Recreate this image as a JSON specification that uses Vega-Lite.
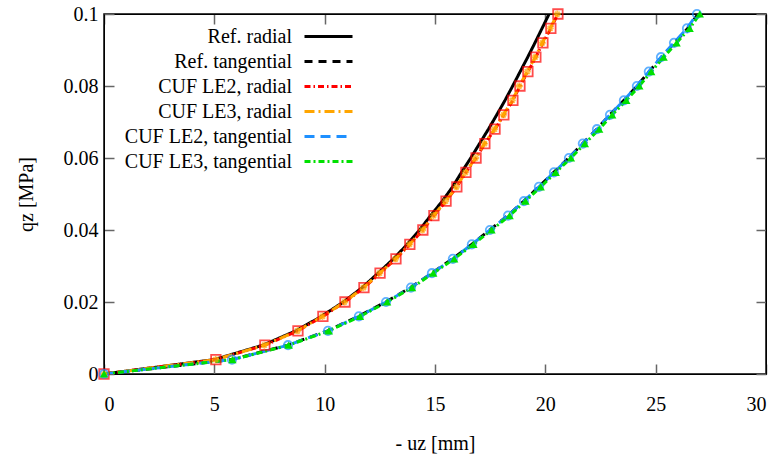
{
  "$schema": "https://vega.github.io/schema/vega-lite/v6.json",
  "width": 662,
  "height": 360,
  "autosize": {"type": "none"},
  "padding": {"left": 104, "top": 14, "right": 14, "bottom": 86},
  "background": "white",
  "config": {
    "font": "Liberation Serif",
    "view": {"stroke": "black", "strokeWidth": 1.5},
    "axis": {"grid": false, "labelFont": "Liberation Serif", "titleFont": "Liberation Serif", "labelFontSize": 20, "titleFontSize": 20, "titleFontWeight": "normal", "labelColor": "black", "titleColor": "black", "domainColor": "black", "tickColor": "#666", "tickSize": -10, "tickWidth": 1.5}
  },
  "datasets": {
    "pts": [
      {"s": "Ref. radial", "u": 0, "q": 0}, {"s": "Ref. radial", "u": 5.0, "q": 0.004}, {"s": "Ref. radial", "u": 7.2, "q": 0.008}, {"s": "Ref. radial", "u": 8.7, "q": 0.012}, {"s": "Ref. radial", "u": 9.85, "q": 0.016}, {"s": "Ref. radial", "u": 10.85, "q": 0.02}, {"s": "Ref. radial", "u": 11.7, "q": 0.024}, {"s": "Ref. radial", "u": 12.42, "q": 0.028}, {"s": "Ref. radial", "u": 13.12, "q": 0.032}, {"s": "Ref. radial", "u": 13.74, "q": 0.036}, {"s": "Ref. radial", "u": 14.3, "q": 0.04}, {"s": "Ref. radial", "u": 14.8, "q": 0.044}, {"s": "Ref. radial", "u": 15.33, "q": 0.048}, {"s": "Ref. radial", "u": 15.8, "q": 0.052}, {"s": "Ref. radial", "u": 16.2, "q": 0.056}, {"s": "Ref. radial", "u": 16.62, "q": 0.06}, {"s": "Ref. radial", "u": 17.02, "q": 0.064}, {"s": "Ref. radial", "u": 17.42, "q": 0.068}, {"s": "Ref. radial", "u": 17.8, "q": 0.072}, {"s": "Ref. radial", "u": 18.17, "q": 0.076}, {"s": "Ref. radial", "u": 18.52, "q": 0.08}, {"s": "Ref. radial", "u": 18.86, "q": 0.084}, {"s": "Ref. radial", "u": 19.2, "q": 0.088}, {"s": "Ref. radial", "u": 19.53, "q": 0.092}, {"s": "Ref. radial", "u": 19.85, "q": 0.096}, {"s": "Ref. radial", "u": 20.17, "q": 0.1},

      {"s": "Ref. tangential", "u": 0, "q": 0}, {"s": "Ref. tangential", "u": 5.78, "q": 0.004}, {"s": "Ref. tangential", "u": 8.32, "q": 0.008}, {"s": "Ref. tangential", "u": 10.13, "q": 0.012}, {"s": "Ref. tangential", "u": 11.53, "q": 0.016}, {"s": "Ref. tangential", "u": 12.76, "q": 0.02}, {"s": "Ref. tangential", "u": 13.89, "q": 0.024}, {"s": "Ref. tangential", "u": 14.85, "q": 0.028}, {"s": "Ref. tangential", "u": 15.8, "q": 0.032}, {"s": "Ref. tangential", "u": 16.66, "q": 0.036}, {"s": "Ref. tangential", "u": 17.48, "q": 0.04}, {"s": "Ref. tangential", "u": 18.3, "q": 0.044}, {"s": "Ref. tangential", "u": 19.02, "q": 0.048}, {"s": "Ref. tangential", "u": 19.7, "q": 0.052}, {"s": "Ref. tangential", "u": 20.38, "q": 0.056}, {"s": "Ref. tangential", "u": 21.06, "q": 0.06}, {"s": "Ref. tangential", "u": 21.69, "q": 0.064}, {"s": "Ref. tangential", "u": 22.33, "q": 0.068}, {"s": "Ref. tangential", "u": 22.92, "q": 0.072}, {"s": "Ref. tangential", "u": 23.56, "q": 0.076}, {"s": "Ref. tangential", "u": 24.15, "q": 0.08}, {"s": "Ref. tangential", "u": 24.7, "q": 0.084}, {"s": "Ref. tangential", "u": 25.26, "q": 0.088}, {"s": "Ref. tangential", "u": 25.85, "q": 0.092}, {"s": "Ref. tangential", "u": 26.45, "q": 0.096}, {"s": "Ref. tangential", "u": 26.92, "q": 0.1},

      {"s": "CUF LE2, radial", "u": 0, "q": 0}, {"s": "CUF LE2, radial", "u": 5.07, "q": 0.004}, {"s": "CUF LE2, radial", "u": 7.29, "q": 0.008}, {"s": "CUF LE2, radial", "u": 8.79, "q": 0.012}, {"s": "CUF LE2, radial", "u": 9.92, "q": 0.016}, {"s": "CUF LE2, radial", "u": 10.92, "q": 0.02}, {"s": "CUF LE2, radial", "u": 11.78, "q": 0.024}, {"s": "CUF LE2, radial", "u": 12.51, "q": 0.028}, {"s": "CUF LE2, radial", "u": 13.23, "q": 0.032}, {"s": "CUF LE2, radial", "u": 13.86, "q": 0.036}, {"s": "CUF LE2, radial", "u": 14.45, "q": 0.04}, {"s": "CUF LE2, radial", "u": 14.95, "q": 0.044}, {"s": "CUF LE2, radial", "u": 15.5, "q": 0.048}, {"s": "CUF LE2, radial", "u": 15.99, "q": 0.052}, {"s": "CUF LE2, radial", "u": 16.4, "q": 0.056}, {"s": "CUF LE2, radial", "u": 16.86, "q": 0.06}, {"s": "CUF LE2, radial", "u": 17.26, "q": 0.064}, {"s": "CUF LE2, radial", "u": 17.72, "q": 0.068}, {"s": "CUF LE2, radial", "u": 18.12, "q": 0.072}, {"s": "CUF LE2, radial", "u": 18.53, "q": 0.076}, {"s": "CUF LE2, radial", "u": 18.85, "q": 0.08}, {"s": "CUF LE2, radial", "u": 19.21, "q": 0.084}, {"s": "CUF LE2, radial", "u": 19.57, "q": 0.088}, {"s": "CUF LE2, radial", "u": 19.89, "q": 0.092}, {"s": "CUF LE2, radial", "u": 20.25, "q": 0.096}, {"s": "CUF LE2, radial", "u": 20.57, "q": 0.1},

      {"s": "CUF LE3, radial", "u": 0, "q": 0}, {"s": "CUF LE3, radial", "u": 5.06, "q": 0.004}, {"s": "CUF LE3, radial", "u": 7.27, "q": 0.008}, {"s": "CUF LE3, radial", "u": 8.77, "q": 0.012}, {"s": "CUF LE3, radial", "u": 9.9, "q": 0.016}, {"s": "CUF LE3, radial", "u": 10.9, "q": 0.02}, {"s": "CUF LE3, radial", "u": 11.76, "q": 0.024}, {"s": "CUF LE3, radial", "u": 12.49, "q": 0.028}, {"s": "CUF LE3, radial", "u": 13.21, "q": 0.032}, {"s": "CUF LE3, radial", "u": 13.84, "q": 0.036}, {"s": "CUF LE3, radial", "u": 14.43, "q": 0.04}, {"s": "CUF LE3, radial", "u": 14.93, "q": 0.044}, {"s": "CUF LE3, radial", "u": 15.48, "q": 0.048}, {"s": "CUF LE3, radial", "u": 15.97, "q": 0.052}, {"s": "CUF LE3, radial", "u": 16.38, "q": 0.056}, {"s": "CUF LE3, radial", "u": 16.84, "q": 0.06}, {"s": "CUF LE3, radial", "u": 17.24, "q": 0.064}, {"s": "CUF LE3, radial", "u": 17.7, "q": 0.068}, {"s": "CUF LE3, radial", "u": 18.1, "q": 0.072}, {"s": "CUF LE3, radial", "u": 18.5, "q": 0.076}, {"s": "CUF LE3, radial", "u": 18.82, "q": 0.08}, {"s": "CUF LE3, radial", "u": 19.18, "q": 0.084}, {"s": "CUF LE3, radial", "u": 19.54, "q": 0.088}, {"s": "CUF LE3, radial", "u": 19.86, "q": 0.092}, {"s": "CUF LE3, radial", "u": 20.22, "q": 0.096}, {"s": "CUF LE3, radial", "u": 20.54, "q": 0.1},

      {"s": "CUF LE2, tangential", "u": 0, "q": 0}, {"s": "CUF LE2, tangential", "u": 5.8, "q": 0.004}, {"s": "CUF LE2, tangential", "u": 8.34, "q": 0.008}, {"s": "CUF LE2, tangential", "u": 10.15, "q": 0.012}, {"s": "CUF LE2, tangential", "u": 11.55, "q": 0.016}, {"s": "CUF LE2, tangential", "u": 12.78, "q": 0.02}, {"s": "CUF LE2, tangential", "u": 13.91, "q": 0.024}, {"s": "CUF LE2, tangential", "u": 14.86, "q": 0.028}, {"s": "CUF LE2, tangential", "u": 15.81, "q": 0.032}, {"s": "CUF LE2, tangential", "u": 16.67, "q": 0.036}, {"s": "CUF LE2, tangential", "u": 17.49, "q": 0.04}, {"s": "CUF LE2, tangential", "u": 18.31, "q": 0.044}, {"s": "CUF LE2, tangential", "u": 19.03, "q": 0.048}, {"s": "CUF LE2, tangential", "u": 19.71, "q": 0.052}, {"s": "CUF LE2, tangential", "u": 20.39, "q": 0.056}, {"s": "CUF LE2, tangential", "u": 21.07, "q": 0.06}, {"s": "CUF LE2, tangential", "u": 21.7, "q": 0.064}, {"s": "CUF LE2, tangential", "u": 22.34, "q": 0.068}, {"s": "CUF LE2, tangential", "u": 22.93, "q": 0.072}, {"s": "CUF LE2, tangential", "u": 23.56, "q": 0.076}, {"s": "CUF LE2, tangential", "u": 24.15, "q": 0.08}, {"s": "CUF LE2, tangential", "u": 24.69, "q": 0.084}, {"s": "CUF LE2, tangential", "u": 25.24, "q": 0.088}, {"s": "CUF LE2, tangential", "u": 25.83, "q": 0.092}, {"s": "CUF LE2, tangential", "u": 26.42, "q": 0.096}, {"s": "CUF LE2, tangential", "u": 26.87, "q": 0.1},

      {"s": "CUF LE3, tangential", "u": 0, "q": 0}, {"s": "CUF LE3, tangential", "u": 5.82, "q": 0.004}, {"s": "CUF LE3, tangential", "u": 8.37, "q": 0.008}, {"s": "CUF LE3, tangential", "u": 10.19, "q": 0.012}, {"s": "CUF LE3, tangential", "u": 11.6, "q": 0.016}, {"s": "CUF LE3, tangential", "u": 12.83, "q": 0.02}, {"s": "CUF LE3, tangential", "u": 13.96, "q": 0.024}, {"s": "CUF LE3, tangential", "u": 14.92, "q": 0.028}, {"s": "CUF LE3, tangential", "u": 15.87, "q": 0.032}, {"s": "CUF LE3, tangential", "u": 16.74, "q": 0.036}, {"s": "CUF LE3, tangential", "u": 17.56, "q": 0.04}, {"s": "CUF LE3, tangential", "u": 18.38, "q": 0.044}, {"s": "CUF LE3, tangential", "u": 19.1, "q": 0.048}, {"s": "CUF LE3, tangential", "u": 19.79, "q": 0.052}, {"s": "CUF LE3, tangential", "u": 20.47, "q": 0.056}, {"s": "CUF LE3, tangential", "u": 21.16, "q": 0.06}, {"s": "CUF LE3, tangential", "u": 21.79, "q": 0.064}, {"s": "CUF LE3, tangential", "u": 22.44, "q": 0.068}, {"s": "CUF LE3, tangential", "u": 23.03, "q": 0.072}, {"s": "CUF LE3, tangential", "u": 23.67, "q": 0.076}, {"s": "CUF LE3, tangential", "u": 24.26, "q": 0.08}, {"s": "CUF LE3, tangential", "u": 24.8, "q": 0.084}, {"s": "CUF LE3, tangential", "u": 25.36, "q": 0.088}, {"s": "CUF LE3, tangential", "u": 25.95, "q": 0.092}, {"s": "CUF LE3, tangential", "u": 26.54, "q": 0.096}, {"s": "CUF LE3, tangential", "u": 27.0, "q": 0.1}
    ]
  },
  "data": {"name": "pts"},
  "layer": [
    {
      "mark": {"type": "line", "clip": true},
      "encoding": {
        "x": {"field": "u", "type": "quantitative", "scale": {"domain": [0, 30], "nice": false}, "axis": {"orient": "bottom", "values": [0, 5, 10, 15, 20, 25, 30], "format": "~g", "title": "- uz [mm]", "labelPadding": 30, "titlePadding": 19}},
        "y": {"field": "q", "type": "quantitative", "scale": {"domain": [0, 0.1], "nice": false}, "axis": {"orient": "left", "values": [0, 0.02, 0.04, 0.06, 0.08, 0.1], "format": ".2~f", "title": "qz [MPa]", "labelPadding": 16, "titlePadding": 27}},
        "color": {"field": "s", "type": "nominal", "scale": {"domain": ["Ref. radial", "Ref. tangential", "CUF LE2, radial", "CUF LE3, radial", "CUF LE2, tangential", "CUF LE3, tangential"], "range": ["#000000", "#000000", "#ff0000", "#ffa500", "#1e90ff", "#00e000"]},
          "legend": {"title": null, "orient": "none", "legendX": 213, "legendY": 11, "symbolType": "M-2.4,0L2.4,0", "symbolSize": 400, "symbolStrokeWidth": 2.5, "labelAlign": "right", "labelOffset": -48, "labelFont": "Liberation Serif", "labelFontSize": 20, "labelColor": "black", "rowPadding": 3, "labelLimit": 300, "padding": 0}},
        "strokeDash": {"field": "s", "type": "nominal", "scale": {"domain": ["Ref. radial", "Ref. tangential", "CUF LE2, radial", "CUF LE3, radial", "CUF LE2, tangential", "CUF LE3, tangential"], "range": [[1, 0], [8, 6], [6, 3, 1.5, 3], [10, 4, 2, 4], [10, 6], [6, 3, 2, 3]]}},
        "strokeWidth": {"field": "s", "type": "nominal", "scale": {"domain": ["Ref. radial", "Ref. tangential", "CUF LE2, radial", "CUF LE3, radial", "CUF LE2, tangential", "CUF LE3, tangential"], "range": [3, 3, 1.5, 1.5, 1.5, 1.5]}, "legend": null}
      }
    },
    {
      "transform": [{"filter": "datum.s === 'CUF LE2, radial'"}],
      "mark": {"type": "point", "shape": "square", "filled": false, "stroke": "#ff0000", "strokeWidth": 1.8, "size": 90, "clip": false},
      "encoding": {"x": {"field": "u", "type": "quantitative", "axis": null}, "y": {"field": "q", "type": "quantitative", "axis": null}}
    },
    {
      "transform": [{"filter": "datum.s === 'CUF LE3, radial'"}],
      "mark": {"type": "point", "shape": "M-1,0L1,0M0,-1L0,1M-0.7,-0.7L0.7,0.7M-0.7,0.7L0.7,-0.7", "filled": false, "stroke": "#ffa500", "strokeWidth": 1.8, "size": 50, "clip": false},
      "encoding": {"x": {"field": "u", "type": "quantitative", "axis": null}, "y": {"field": "q", "type": "quantitative", "axis": null}}
    },
    {
      "transform": [{"filter": "datum.s === 'CUF LE2, tangential'"}],
      "mark": {"type": "point", "shape": "circle", "filled": false, "stroke": "#1e90ff", "strokeWidth": 1.8, "size": 70, "clip": false},
      "encoding": {"x": {"field": "u", "type": "quantitative", "axis": null}, "y": {"field": "q", "type": "quantitative", "axis": null}}
    },
    {
      "transform": [{"filter": "datum.s === 'CUF LE3, tangential'"}],
      "mark": {"type": "point", "shape": "triangle-up", "filled": true, "fill": "#00e000", "opacity": 1, "size": 70, "clip": false},
      "encoding": {"x": {"field": "u", "type": "quantitative", "axis": null}, "y": {"field": "q", "type": "quantitative", "axis": null}}
    },
    {
      "mark": {"type": "point", "opacity": 0},
      "encoding": {
        "x": {"field": "u", "type": "quantitative", "axis": {"orient": "top", "values": [0, 5, 10, 15, 20, 25, 30], "labels": false, "title": null}},
        "y": {"field": "q", "type": "quantitative", "axis": {"orient": "right", "values": [0, 0.02, 0.04, 0.06, 0.08, 0.1], "labels": false, "title": null}}
      }
    }
  ],
  "resolve": {"axis": {"x": "independent", "y": "independent"}}
}
